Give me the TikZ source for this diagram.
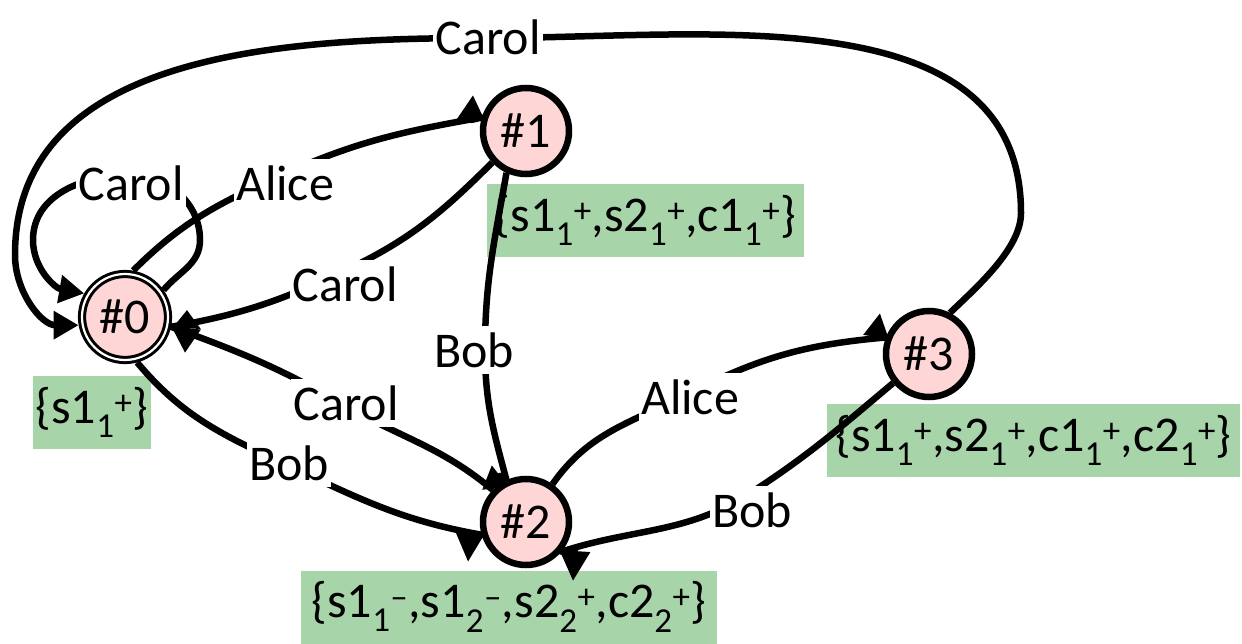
\documentclass[tikz,border=0pt]{standalone}
\usepackage{fontspec}
\setmainfont{Carlito}
\usetikzlibrary{arrows.meta}
\pgfdeclarelayer{boxes}
\pgfdeclarelayer{edges}
\pgfsetlayers{boxes,edges,main}
\definecolor{nodepink}{RGB}{255,214,214}
\definecolor{setgreen}{RGB}{168,212,170}
\newcommand\elm[3]{#1\textsubscript{#2}\textsuperscript{#3}}
\begin{document}
\begin{tikzpicture}[x=1pt,y=1pt,
  stnode/.style={circle, draw=black, line width=6.5pt, fill=nodepink, minimum size=86pt,
    inner sep=0pt, outer sep=3.2pt, font=\fontsize{50}{60}\selectfont},
  acc/.style={stnode, line width=3pt, double=white, double distance=2.2pt,
    outer sep=4.1pt, minimum size=86pt},
  lbl/.style={fill=white, inner xsep=2pt, inner ysep=6pt, font=\fontsize{50}{60}\selectfont},
  setbox/.style={fill=setgreen, inner sep=0pt, minimum height=73pt, font=\fontsize{50}{60}\selectfont},
  conn/.style={line width=6.5pt, draw=black, line join=round},
  arrowA/.style={-{Triangle[length=25pt,width=27pt]}},
  arrowW/.style 2 args={-{Triangle[length=#1,width=#2]}},
]
\useasboundingbox (0,0) rectangle (1242,643);

% states
\node[acc] (n0) at (125,326) {\#0};
\node[stnode] (n1) at (526,512) {\#1};
\node[stnode] (n2) at (526,121) {\#2};
\node[stnode] (n3) at (929,289) {\#3};

% sets
\begin{pgfonlayer}{boxes}
\node[setbox, minimum width=118pt] (s0) at (92,230.5) {\{\elm{s1}{1}{+}\}};
\node[setbox, minimum width=317pt] (s1) at (645.5,422.5) {\{\elm{s1}{1}{+},\elm{s2}{1}{+},\elm{c1}{1}{+}\}};
\node[setbox, minimum width=416pt] (s2) at (509,36) {\{\elm{s1}{1}{–},\elm{s1}{2}{–},\elm{s2}{2}{+},\elm{c2}{2}{+}\}};
\node[setbox, minimum width=413pt] (s3) at (1033.5,202.5) {\{\elm{s1}{1}{+},\elm{s2}{1}{+},\elm{c1}{1}{+},\elm{c2}{1}{+}\}};
\end{pgfonlayer}

% connectors
\begin{pgfonlayer}{edges}
\draw[conn, arrowA] (n3.63) .. controls (978,357) and (1021,395) .. (1021,430)
   to[out=90,in=0] (488,605)
   to[out=180,in=90] (15,388) to[out=-90,in=180] (n0.190);
\draw[conn, arrowA] (n0.35) to[out=50,in=-90] (200,403) to[out=90,in=0] (130,468)
   to[out=180,in=90] (33,403) to[out=-90,in=170] (n0.150);
\draw[conn, arrowW={25pt}{26pt}] (n0.80) to[out=45,in=204] (284,469)
   to[out=24,in=190] (n1.163) -- (471,523) -- (473,548);
\draw[conn, arrowW={18.5pt}{27pt}] (n1.223) to[out=225,in=25] (342,371)
   to[out=205,in=10] (n0.-12) -- (186.5,314.5) -- (187,333);
\draw[conn, arrowW={24.5pt}{27pt}] (n2.136) to[out=140,in=-30] (342,239)
   to[out=150,in=-20] (n0.-12) -- (186.5,314.5) -- (185,290);
\draw[conn, arrowW={22.8pt}{25pt}] (n1.245) to[out=-100,in=90] (485,293)
   to[out=-90,in=105] (n2.115) -- (500,167) -- (482,153);
\draw[conn, arrowW={28pt}{26pt}] (n0.-75) to[out=-50,in=155] (289,177)
   to[out=-25,in=170] (n2.196) -- (470,109) -- (468,81);
\draw[conn, arrowW={24.3pt}{24pt}] (n2.55) to[out=55,in=207] (690,250)
   to[out=27,in=185] (n3.159) -- (876,306) -- (880,330);
\draw[conn, arrowW={30pt}{29pt}] (n3.219) to[out=220,in=33] (752,151)
   to[out=213,in=18] (n2.-40) -- (575,93) -- (573,62);
\end{pgfonlayer}

% labels
\node[lbl] (lc1) at (488,606) {Carol};
\node[lbl] (lc2) at (131,460) {Carol};
\node[lbl] (la1) at (285,460) {Alice};
\node[lbl] (lc3) at (345,359) {Carol};
\node[lbl] (lc4) at (346,240) {Carol};
\node[lbl] (lb1) at (474,293) {Bob};
\node[lbl] (lb2) at (289,180) {Bob};
\node[lbl] (la2) at (690,246) {Alice};
\node[lbl] (lb3) at (752,133) {Bob};
\end{tikzpicture}
\end{document}
